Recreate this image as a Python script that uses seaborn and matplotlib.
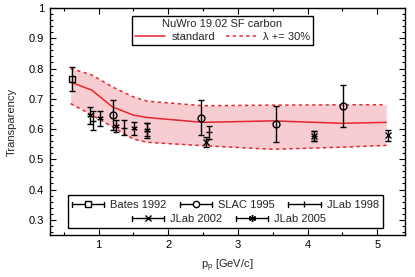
import numpy as np
import pandas as pd
import matplotlib
matplotlib.use("Agg")
import matplotlib.pyplot as plt
import seaborn as sns
from matplotlib.lines import Line2D
from matplotlib.legend_handler import HandlerBase
from matplotlib.ticker import MultipleLocator
from matplotlib.patches import Rectangle

# ---------------- data ----------------
model_p = [0.6, 0.9, 1.2, 1.5, 1.7, 2.5, 3.5, 4.5, 5.13]
standard = [0.755, 0.729, 0.673, 0.646, 0.638, 0.622, 0.627, 0.619, 0.622]
upper = [0.800, 0.779, 0.739, 0.706, 0.692, 0.677, 0.679, 0.680, 0.680]
lower = [0.684, 0.647, 0.607, 0.567, 0.556, 0.545, 0.533, 0.540, 0.546]

bates_p = [0.62]
bates_T = [0.765]
bates_err = [0.040]

slac_p = [1.21, 2.47, 3.55, 4.51]
slac_T = [0.646, 0.638, 0.616, 0.677]
slac_err = [0.049, 0.059, 0.059, 0.070]

jlab98_p = [0.92, 1.36, 1.69, 2.59, 4.10]
jlab98_T = [0.628, 0.605, 0.595, 0.589, 0.578]
jlab98_err = [0.030, 0.024, 0.025, 0.022, 0.017]

jlab02_p = [2.54, 4.10, 5.15]
jlab02_T = [0.556, 0.578, 0.579]
jlab02_err = [0.016, 0.016, 0.017]

jlab05_p = [0.88, 1.02, 1.25, 1.51, 1.69]
jlab05_T = [0.645, 0.635, 0.611, 0.602, 0.598]
jlab05_err = [0.027, 0.024, 0.020, 0.022, 0.022]

series_labels = ["Bates 1992", "SLAC 1995", "JLab 1998", "JLab 2002", "JLab 2005"]

# ---------------- style ----------------
sns.set_theme(style="ticks")
plt.rcParams["font.family"] = ["Liberation Sans", "DejaVu Sans"]
plt.rcParams["font.size"] = 8

RED = "#e8262d"
FILL = "#f8cdd1"

fig = plt.figure(figsize=(4.15, 2.77), dpi=100)
ax = fig.add_axes([0.120, 0.152, 0.856, 0.819])

df_model = pd.DataFrame({"p": model_p, "standard": standard,
                         "upper": upper, "lower": lower})

ax.fill_between(df_model["p"], df_model["lower"], df_model["upper"],
                color=FILL, lw=0, zorder=1)
sns.lineplot(data=df_model, x="p", y="standard", color=RED, lw=1.1, ax=ax, zorder=3)
sns.lineplot(data=df_model, x="p", y="upper", color=RED, lw=1.1, ax=ax,
             linestyle=(0, (2.2, 2.2)), zorder=3)
sns.lineplot(data=df_model, x="p", y="lower", color=RED, lw=1.1, ax=ax,
             linestyle=(0, (2.2, 2.2)), zorder=3)

asterisk = (6, 2, 0)
sets = [
    (bates_p, bates_T, bates_err, "s", 5, 1.0),
    (slac_p, slac_T, slac_err, "o", 5, 1.0),
    (jlab98_p, jlab98_T, jlab98_err, "_", 5, 1.0),
    (jlab02_p, jlab02_T, jlab02_err, "x", 4, 1.0),
    (jlab05_p, jlab05_T, jlab05_err, asterisk, 4.5, 0.8),
]
for p, T, e, m, ms, mw in sets:
    ax.errorbar(p, T, yerr=e, fmt="none", ecolor="black", elinewidth=1.0,
                capsize=2.3, capthick=1.0, zorder=4)
    ax.plot(p, T, ls="none", marker=m, markersize=ms, mfc="none",
            mec="black", mew=mw, zorder=5)

ax.set_xlim(0.3, 5.4)
ax.set_ylim(0.25, 1.0)
ax.xaxis.set_major_locator(MultipleLocator(1))
ax.xaxis.set_minor_locator(MultipleLocator(0.5))
ax.yaxis.set_minor_locator(MultipleLocator(0.02))
ax.set_yticks([0.3, 0.4, 0.5, 0.6, 0.7, 0.8, 0.9, 1.0])
ax.set_yticklabels(["0.3", "0.4", "0.5", "0.6", "0.7", "0.8", "0.9", "1"])
ax.tick_params(which="both", direction="in", top=True, right=True,
               labelsize=8, colors="black", width=0.8, pad=4)
ax.tick_params(which="major", length=4)
ax.tick_params(which="minor", length=2)
for s in ax.spines.values():
    s.set_linewidth(1.0)
    s.set_color("black")
ax.set_xlabel(r"p$_\mathregular{p}$ [GeV/c]", fontsize=8, labelpad=5)
ax.set_ylabel("Transparency", fontsize=8, labelpad=9)


# ---------------- legends ----------------
class HErr(HandlerBase):
    def create_artists(self, legend, orig_handle, xdescent, ydescent,
                       width, height, fontsize, trans):
        y = height / 2 - ydescent
        x0, x1 = -xdescent, width - xdescent
        h = height * 0.32
        arts = [Line2D([x0, x1], [y, y], color="black", lw=1.0),
                Line2D([x0, x0], [y - h, y + h], color="black", lw=1.0),
                Line2D([x1, x1], [y - h, y + h], color="black", lw=1.0),
                Line2D([(x0 + x1) / 2], [y], marker=orig_handle.get_marker(),
                       markersize=orig_handle.get_markersize(), mfc="white",
                       mec="black", mew=1.0, ls="none")]
        for a in arts:
            a.set_transform(trans)
        return arts


top_handles = [Line2D([], [], color=RED, lw=1.1),
               Line2D([], [], color=RED, lw=1.1, linestyle=(0, (2.2, 2.2)))]
leg_top = ax.legend(top_handles, ["standard", "λ += 30%"], ncol=2,
                    title="NuWro 19.02 SF carbon", loc="center",
                    bbox_to_anchor=(0.486, 0.901), frameon=True, fancybox=False,
                    edgecolor="black", framealpha=1, fontsize=8,
                    title_fontsize=8, handlelength=2.7, handletextpad=0.6,
                    columnspacing=1.0, borderpad=0.3, labelspacing=0.2,
                    borderaxespad=0)
leg_top.get_frame().set_linewidth(1.0)
leg_top.set_zorder(7)
ax.add_artist(leg_top)

hm = [Line2D([], [], marker="s", markersize=4.5),
      Line2D([], [], marker="o", markersize=4.5),
      Line2D([], [], marker="|", markersize=4),
      Line2D([], [], marker="x", markersize=4),
      Line2D([], [], marker=asterisk, markersize=5)]
leg1 = ax.legend(hm[:3], series_labels[:3], ncol=3, loc="center",
                 bbox_to_anchor=(0.494, 0.132), frameon=False, fontsize=8,
                 handlelength=2.9, handletextpad=0.55, columnspacing=1.2,
                 handler_map={Line2D: HErr()}, borderpad=0, borderaxespad=0)
leg1.set_zorder(7)
ax.add_artist(leg1)
leg2 = ax.legend(hm[3:], series_labels[3:], ncol=2, loc="center",
                 bbox_to_anchor=(0.504, 0.069), frameon=False, fontsize=8,
                 handlelength=2.9, handletextpad=0.55, columnspacing=1.2,
                 handler_map={Line2D: HErr()}, borderpad=0, borderaxespad=0)
leg2.set_zorder(7)
ax.add_patch(Rectangle((0.052, 0.032), 0.885, 0.144, transform=ax.transAxes,
                       fill=True, facecolor="white", edgecolor="black", lw=1.0,
                       zorder=6))

fig.savefig("out.png", dpi=100)
